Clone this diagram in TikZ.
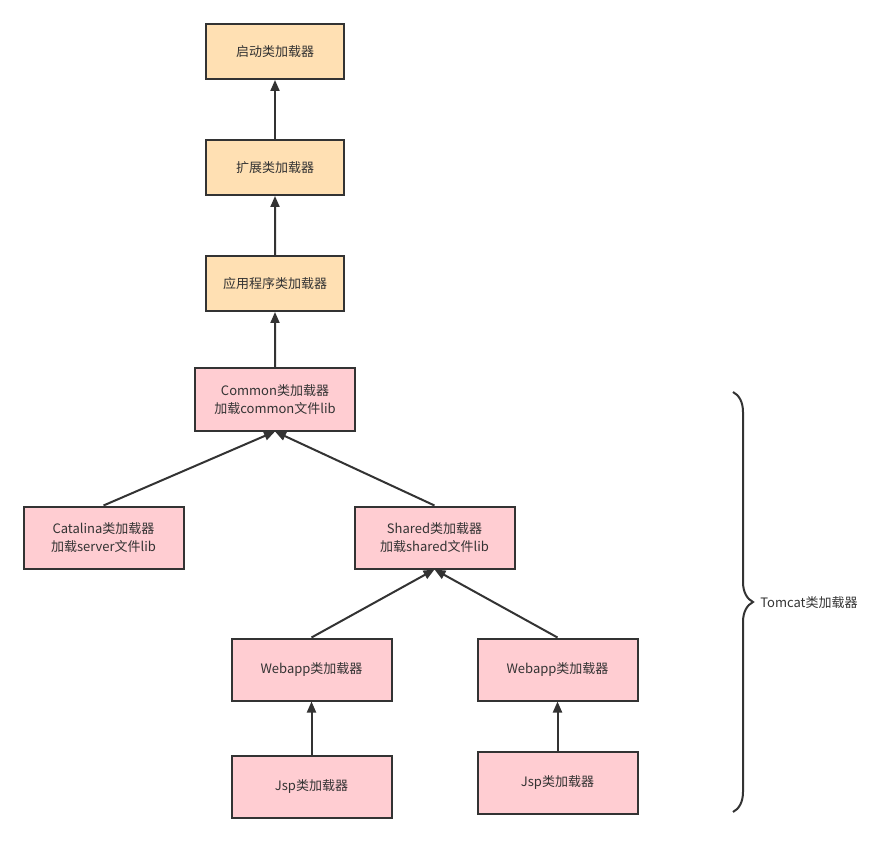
\documentclass[tikz,border=0pt]{standalone}
\usepackage{fontspec}
\setmainfont{Noto Sans CJK SC}
\usetikzlibrary{arrows.meta}
\usetikzlibrary{decorations.pathreplacing}
\definecolor{orangefill}{HTML}{FFE0B3}
\definecolor{pinkfill}{HTML}{FFCDD2}
\definecolor{linegray}{HTML}{333333}

\begin{document}
\begin{tikzpicture}[x=1pt, y=1pt, line width=2pt, font=\fontsize{13}{18}\selectfont, text=linegray,
level distance=116pt,
level 4/.style={sibling distance=331pt, level distance=138pt},
level 5/.style={sibling distance=246pt, level distance=132pt},
level 6/.style={level distance=117pt},
edge from parent/.style={draw=linegray, line width=2pt, {Triangle[length=11pt,width=9pt]}-},
parent anchor=south, child anchor=north,
jvm/.style={draw=linegray, line width=2pt, fill=orangefill, minimum width=138pt, minimum height=55pt},
tomcat/.style={draw=linegray, line width=2pt, fill=pinkfill, minimum width=160pt, minimum height=62pt, align=center}]
\useasboundingbox (0,0) rectangle (884,-842);
\node[jvm] (boot) at (275,-51.5) {启动类加载器} child { node[jvm] (ext) {扩展类加载器} child { node[jvm] (app) {应用程序类加载器} child { node[tomcat] (common) {Common类加载器\\加载common文件lib}
child { node[tomcat, xshift=-6pt] (catalina) {Catalina类加载器\\加载server文件lib} } child { node[tomcat, xshift=-6pt] (shared) {Shared类加载器\\加载shared文件lib}
child { node[tomcat] (webappA) {Webapp类加载器} child { node[tomcat] (jspA) {Jsp类加载器} } } child { node[tomcat] (webappB) {Webapp类加载器} child[level distance=113pt] { node[tomcat] (jspB) {Jsp类加载器} } } } } } } ;
\coordinate (bracetop) at (733,-392);
\coordinate (bracebot) at (733,-812);
\draw[linegray, decorate, decoration={brace, amplitude=20pt}] (bracetop) -- (bracebot);
\node[anchor=west] (tomcatlabel) at (756,-603) {Tomcat类加载器};
\end{tikzpicture}
\end{document}
